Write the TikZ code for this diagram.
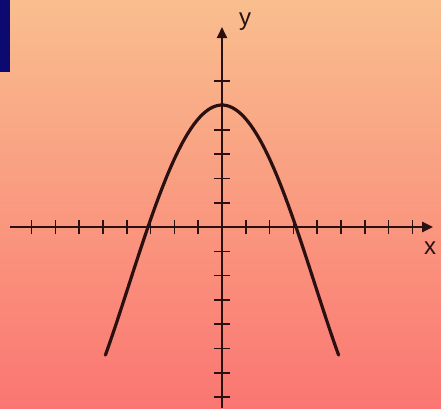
\documentclass[tikz,border=0pt]{standalone}
\usepackage{fontspec}
\setsansfont{Liberation Sans}
\usetikzlibrary{arrows.meta}

\definecolor{bgtop}{RGB}{249,190,142}
\definecolor{bgmid}{RGB}{249,158,124}
\definecolor{bgbot}{RGB}{250,118,114}
\definecolor{cornerblue}{RGB}{12,10,112}
\definecolor{inkdark}{RGB}{42,16,16}

\begin{document}
\begin{tikzpicture}[
    x=23.8pt, y=24.3pt,
    axis/.style={draw=inkdark, -{Triangle[length=11pt,width=10pt]}},
    tickmark/.style={draw=inkdark, line width=1.6pt},
    curve/.style={draw=inkdark, line width=3.2pt, line cap=round},
    axislabel/.style={font=\sffamily\fontsize{24}{24}\selectfont, text=inkdark, inner sep=0pt}
]

% Background
\useasboundingbox (-9.328,-7.449) rectangle (9.202,9.342);
\shade[top color=bgtop, middle color=bgmid, bottom color=bgbot] (-9.328,-7.449) rectangle (9.202,9.342);
\fill[cornerblue] (-9.328,9.342) rectangle (-8.9,6.38);

% Axes
\coordinate (xstart) at (-8.9,0);
\coordinate (xend) at (8.87,0);
\coordinate (ystart) at (0,-7.449);
\coordinate (yend) at (0,8.23);
\draw[axis, line width=2.6pt] (xstart) -- (xend);
\draw[axis, line width=1.8pt] (ystart) -- (yend);

\node[axislabel] (xlabel) at (8.74,-0.86) {x};
\node[axislabel] (ylabel) at (0.97,8.44) {y};

% Ticks
\foreach \i in {-8,...,-1,1,2,...,8}
    \draw[tickmark] (\i,-0.3) -- (\i,0.3);
\foreach \j in {-7,...,-1,1,2,...,6}
    \draw[tickmark] (-0.32,\j) -- (0.32,\j);

% Parabola
\draw[curve] plot[domain=-4.9:4.9, samples=80, smooth] (\x, {5.02 - 0.58*\x*\x + 0.0063*\x*\x*\x*\x});

\end{tikzpicture}
\end{document}
